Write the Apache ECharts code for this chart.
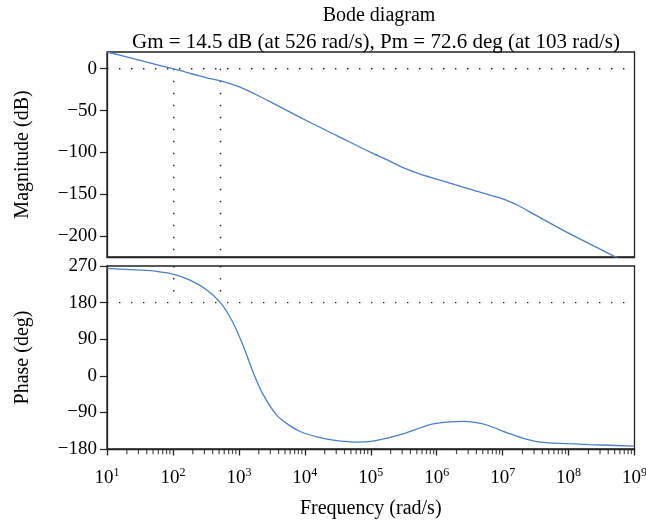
<!DOCTYPE html>
<html>
<head>
<meta charset="utf-8">
<script src="https://cdn.jsdelivr.net/npm/echarts@6/dist/echarts.min.js"></script>
<style>
  html, body { margin: 0; padding: 0; background: #fff; }
  #main { width: 646px; height: 527px; }
</style>
</head>
<body>
<div id="main"></div>
<script>
// x values are decades: log10 of the frequency in rad/s
const decades = [1, 2, 3, 4, 5, 6, 7, 8, 9];

// magnitude curve (dB)
const magLogW = [1, 1.5, 2, 2.5, 2.75, 3, 3.25, 3.5, 4, 4.5, 5, 5.25, 5.5, 5.75, 6, 6.5, 7, 7.25, 7.5, 8, 8.5, 9];
const magDb   = [20, 10, 0, -10.5, -15, -21.5, -30.5, -40.5, -61, -80.5, -100, -109, -118.5, -126, -132, -144, -155.5, -164, -175, -196.5, -216.5, -236.5];

// phase curve (deg)
const phaseLogW = [1, 1.5, 1.75, 2, 2.25, 2.5, 2.72, 2.9, 3.07, 3.22, 3.37, 3.57, 3.75, 3.93, 4.2, 4.43, 4.8, 5, 5.25, 5.5, 5.9, 6.15, 6.4, 6.6, 6.76, 7.1, 7.3, 7.57, 8, 8.3, 9];
const phaseDeg  = [264, 260, 257, 250, 236, 213, 180, 134, 72, 7, -47, -96, -120, -137, -151, -158, -163, -161, -153, -142, -120, -114, -112, -115, -121, -142, -153, -163, -167, -169, -173];

const magTicks = [-200, -150, -100, -50, 0];
const phaseTicks = [-180, -90, 0, 90, 180, 270];

// margins
const wPm = 103;   // rad/s
const wGm = 526;   // rad/s

// minor log ticks 2..9 in every decade
const minorTicks = [];
for (let n = 1; n < 9; n++) {
  for (let k = 2; k <= 9; k++) minorTicks.push(n + Math.log10(k));
}

const magData = magLogW.map((x, i) => [x, magDb[i]]);
const phaseData = phaseLogW.map((x, i) => [x, phaseDeg[i]]);

const FONT = '"Liberation Serif", "DejaVu Serif", serif';
const INK = '#222';
const minus = v => String(v).replace('-', '\u2212');

const dotted = { color: INK, width: 1.4, type: [1.4, 10.6] };
function refLine(xi, yi, pts) {
  return {
    type: 'line', xAxisIndex: xi, yAxisIndex: yi, data: pts,
    symbol: 'none', silent: true, lineStyle: dotted, z: 1
  };
}

const chart = echarts.init(document.getElementById('main'));
chart.setOption({
  animation: false,
  textStyle: { fontFamily: FONT, color: '#000' },
  title: [
    { text: 'Bode diagram', left: 374, top: 1, textAlign: 'center',
      textStyle: { fontFamily: FONT, fontSize: 20, fontWeight: 'normal', color: '#000' } },
    { text: 'Gm = 14.5 dB (at 526 rad/s), Pm = 72.6 deg (at 103 rad/s)', left: 371, top: 27, textAlign: 'center',
      textStyle: { fontFamily: FONT, fontSize: 21, fontWeight: 'normal', color: '#000' } }
  ],
  grid: [
    { left: 107, right: 11.5, top: 52, height: 205, show: true, borderColor: INK, borderWidth: 1.3, outerBoundsMode: 'none' },
    { left: 107, right: 11.5, top: 266, height: 183, show: true, borderColor: INK, borderWidth: 1.3, outerBoundsMode: 'none' }
  ],
  xAxis: [
    { type: 'value', gridIndex: 0, min: 1, max: 9, interval: 1, position: 'bottom',
      axisLine: { onZero: false, lineStyle: { color: INK, width: 1.3 } },
      axisTick: { show: false }, axisLabel: { show: false }, splitLine: { show: false } },
    { type: 'value', gridIndex: 1, min: 1, max: 9, interval: 1, position: 'bottom',
      name: 'Frequency (rad/s)', nameLocation: 'middle', nameGap: 50,
      nameTextStyle: { fontFamily: FONT, fontSize: 20, color: '#000' },
      axisLine: { onZero: false, lineStyle: { color: INK, width: 1.3 } },
      axisTick: { length: 6.5, lineStyle: { color: INK, width: 1.3 } },
      axisLabel: {
        margin: 18, fontFamily: FONT, fontSize: 19, color: '#000',
        formatter: v => '10{sup|' + v + '}',
        rich: { sup: { fontSize: 12, fontFamily: FONT, color: '#000', padding: [0, 0, 10, 0] } }
      },
      splitLine: { show: false } }
  ],
  yAxis: [
    { type: 'value', gridIndex: 0, min: -225, max: 20,
      name: 'Magnitude (dB)', nameLocation: 'middle', nameGap: 74,
      nameTextStyle: { fontFamily: FONT, fontSize: 20, color: '#000' },
      axisLine: { show: true, onZero: false, lineStyle: { color: INK, width: 1.3 } },
      axisTick: { show: true, length: 7, customValues: magTicks, lineStyle: { color: INK, width: 1.2 } },
      axisLabel: { customValues: magTicks, margin: 10, fontFamily: FONT, fontSize: 19, color: '#000', formatter: minus },
      splitLine: { show: false } },
    { type: 'value', gridIndex: 1, min: -180, max: 270, interval: 90,
      name: 'Phase (deg)', nameLocation: 'middle', nameGap: 74,
      nameTextStyle: { fontFamily: FONT, fontSize: 20, color: '#000' },
      axisLine: { show: true, onZero: false, lineStyle: { color: INK, width: 1.3 } },
      axisTick: { show: true, length: 7, lineStyle: { color: INK, width: 1.2 } },
      axisLabel: { margin: 10, fontFamily: FONT, fontSize: 19, color: '#000', formatter: minus },
      splitLine: { show: false } }
  ],
  series: [
    refLine(0, 0, [[1, 0], [9, 0]]),
    refLine(0, 0, [[Math.log10(wPm), 0], [Math.log10(wPm), -225]]),
    refLine(0, 0, [[Math.log10(wGm), 0], [Math.log10(wGm), -225]]),
    refLine(1, 1, [[1, 180], [9, 180]]),
    refLine(1, 1, [[Math.log10(wPm), 270], [Math.log10(wPm), 205]]),
    refLine(1, 1, [[Math.log10(wGm), 270], [Math.log10(wGm), 205]]),
    // minor frequency ticks hanging below the phase axis
    { type: 'scatter', xAxisIndex: 1, yAxisIndex: 1, data: minorTicks.map(x => [x, -180]),
      symbol: 'rect', symbolSize: [1.2, 4.5], symbolOffset: [0, 2.9], clip: false, silent: true,
      itemStyle: { color: INK }, z: 4 },
    { type: 'line', xAxisIndex: 0, yAxisIndex: 0, data: magData, smooth: 0.3,
      symbol: 'none', lineStyle: { color: '#4a7fc9', width: 1.3 }, z: 3 },
    { type: 'line', xAxisIndex: 1, yAxisIndex: 1, data: phaseData, smooth: 0.3,
      symbol: 'none', lineStyle: { color: '#4a7fc9', width: 1.3 }, z: 3 }
  ]
});
</script>
</body>
</html>
